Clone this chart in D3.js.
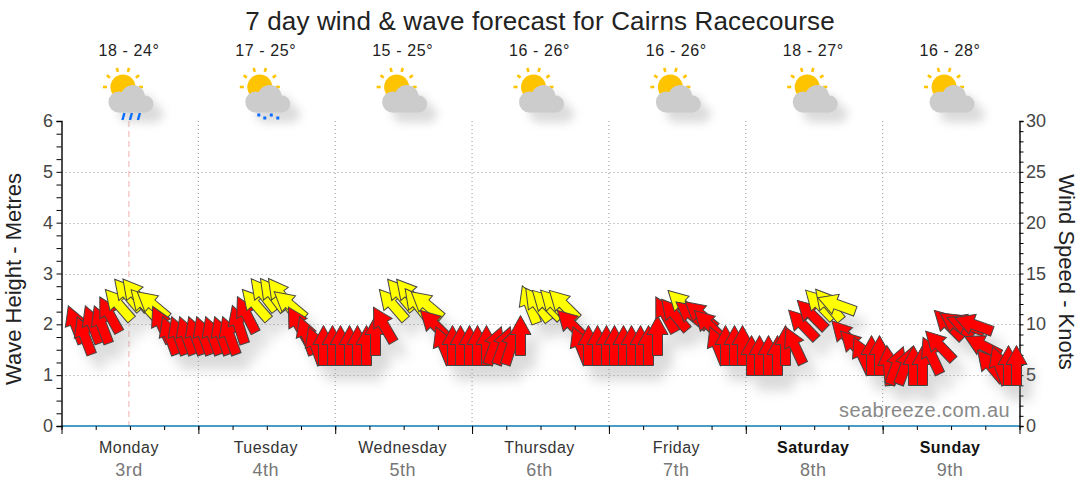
<!DOCTYPE html>
<html lang="en">
<head>
    <meta charset="UTF-8">
    <title>7 day wind & wave forecast</title>
    <script src="https://d3js.org/d3.v7.min.js"></script>
    <style>
        html, body { margin: 0; padding: 0; background: #fff; }
        svg { display: block; }
        text { font-family: "Liberation Sans", Arial, sans-serif; }
        .tick-label { font-size: 18px; fill: #444; }
        .day-label { font-size: 16px; fill: #333; text-anchor: middle; letter-spacing: 0.5px; }
        .date-label { font-size: 18px; fill: #777; text-anchor: middle; letter-spacing: 0.5px; }
        .temp-label { font-size: 16px; fill: #222; text-anchor: middle; letter-spacing: 0.6px; }
        .axis-title { font-size: 22px; fill: #222; text-anchor: middle; }
    </style>
</head>
<body>
<svg id="chart" width="1080" height="490"></svg>
<script>
    const dayLabels = ["Monday", "Tuesday", "Wednesday", "Thursday", "Friday", "Saturday", "Sunday"];
    const dateLabels = ["3rd", "4th", "5th", "6th", "7th", "8th", "9th"];
    const tempLabels = ["18 - 24°", "17 - 25°", "15 - 25°", "16 - 26°", "16 - 26°", "18 - 27°", "16 - 28°"];
    const iconRain = ["rain", "drizzle", "", "", "", "", ""];

    // wind speed in knots, one value every 1.5 hours
    const windKnots = [
        10, 9, 10, 10, 11, 12, 13, 13, 12, 12, 10, 9, 9, 9, 9, 9,
        9, 9, 9, 10, 11, 12, 13, 13, 13, 12, 10, 9, 8, 8, 8, 8,
        8, 8, 8, 9, 10, 12, 13, 13, 12, 12, 10, 8, 8, 8, 8, 8,
        8, 8, 8, 8, 9, 12, 12, 12, 12, 12, 10, 8, 8, 8, 8, 8,
        8, 8, 8, 8, 9, 11, 11, 12, 11, 11, 10, 8, 8, 8, 8, 7,
        7, 7, 7, 8, 8, 10, 11, 12, 12, 12, 9, 8, 7, 7, 7, 6,
        6, 6, 6, 6, 7, 8, 10, 10, 10, 10, 8, 6, 6, 6, 6
    ];
    // arrow rotation in degrees, 0 is straight up
    const windAngle = [
        -21, -21, -21, -21, -29, -41, -40, -39, -42, -50, -26, -20, -20, -20, -20, -20,
        -20, -20, -20, -18, -27, -41, -38, -37, -37, -50, -30, -20, -20, 0, 0, 0,
        0, 0, 0, 0, -30, -41, -40, -40, -38, -50, -45, -22, 0, 0, 0, 0,
        0, 20, 20, 18, 0, -21, -36, -45, -44, -45, -45, -22, 0, 0, 0, 0,
        0, 0, 0, 0, 0, -29, -40, -46, -51, -50, -45, -22, 0, 0, 0, 0,
        0, 0, 0, 0, -25, -44, -45, -44, -40, -70, -43, -44, -25, 0, 0, -5,
        20, 20, 0, 0, -25, -44, -45, -55, -70, -70, -63, -40, -20, 0, 0
    ];
    // wave height stays at zero for the whole week
    const waveHeights = [0, 0, 0, 0, 0, 0, 0, 0];

    const plotLeft = 61.5, plotRight = 1019.5, plotTop = 121, plotBottom = 426;

    const x = d3.scaleLinear().domain([0, 168]).range([plotLeft, plotRight]);
    const yWave = d3.scaleLinear().domain([0, 6]).range([plotBottom, plotTop]);
    const yWind = d3.scaleLinear().domain([0, 30]).range([plotBottom, plotTop]);

    const svg = d3.select("#chart");

    const defs = svg.append("defs");
    defs.append("filter").attr("id", "windShadow")
        .attr("x", "-10%").attr("y", "-20%").attr("width", "120%").attr("height", "170%")
        .append("feGaussianBlur").attr("stdDeviation", 6);
    defs.append("filter").attr("id", "iconShadow")
        .attr("x", "-40%").attr("y", "-40%").attr("width", "190%").attr("height", "190%")
        .append("feGaussianBlur").attr("stdDeviation", 5);

    svg.append("text")
        .attr("x", 540).attr("y", 30)
        .attr("text-anchor", "middle")
        .attr("font-size", 26)
        .attr("fill", "#222")
        .attr("letter-spacing", 0.15)
        .text("7 day wind & wave forecast for Cairns Racecourse");

    // grid
    const grid = svg.append("g").attr("stroke", "#999").attr("stroke-dasharray", "1,3");
    grid.selectAll("line.h").data(d3.range(1, 6)).enter().append("line")
        .attr("class", "h")
        .attr("x1", plotLeft).attr("x2", plotRight)
        .attr("y1", d => Math.round(yWave(d)) + 0.5).attr("y2", d => Math.round(yWave(d)) + 0.5);
    grid.selectAll("line.v").data(d3.range(1, 7)).enter().append("line")
        .attr("class", "v")
        .attr("x1", d => x(d * 24)).attr("x2", d => x(d * 24))
        .attr("y1", plotTop).attr("y2", plotBottom);

    // current time marker
    svg.append("line")
        .attr("x1", x(12) - 1).attr("x2", x(12) - 1)
        .attr("y1", plotTop).attr("y2", plotBottom)
        .attr("stroke", "#f0b0b0")
        .attr("stroke-dasharray", "6,4");

    // wave series
    const waveLine = d3.line()
        .x((d, i) => x(i * 24))
        .y(d => yWave(d));
    svg.append("path")
        .attr("d", waveLine(waveHeights))
        .attr("fill", "none")
        .attr("stroke", "#0a7cb0")
        .attr("stroke-width", 1.6);

    // axes
    const leftAxis = d3.axisLeft(yWave).tickValues(d3.range(0, 6.01, 0.25)).tickSize(5).tickFormat("");
    const gLeft = svg.append("g").attr("transform", `translate(${plotLeft},0)`).call(leftAxis);
    const rightAxis = d3.axisRight(yWind).tickValues(d3.range(0, 31)).tickSize(4).tickFormat("");
    const gRight = svg.append("g").attr("transform", `translate(${plotRight},0)`).call(rightAxis);
    const minorX = d3.axisBottom(x).tickValues(d3.range(0, 169, 6)).tickSize(4).tickFormat("");
    const gX = svg.append("g").attr("transform", `translate(0,${plotBottom})`).call(minorX);
    gX.select(".domain").remove();
    const majorX = d3.axisBottom(x).tickValues(d3.range(0, 169, 24)).tickSize(8).tickFormat("");
    const gX2 = svg.append("g").attr("transform", `translate(0,${plotBottom})`).call(majorX);
    gX2.select(".domain").remove();
    [gLeft, gRight].forEach(g => g.select(".domain").attr("stroke-width", 1.4));

    d3.range(0, 7).forEach(v => {
        svg.append("text").attr("class", "tick-label")
            .attr("x", 53).attr("y", yWave(v) + 6).attr("text-anchor", "end").text(v);
    });
    d3.range(0, 31, 5).forEach(v => {
        svg.append("text").attr("class", "tick-label")
            .attr("x", 1026).attr("y", yWind(v) + 6).attr("text-anchor", "start").text(v);
    });

    svg.append("text").attr("class", "axis-title")
        .attr("transform", `translate(21,279) rotate(-90)`)
        .text("Wave Height - Metres");
    svg.append("text").attr("class", "axis-title")
        .attr("transform", `translate(1059,272) rotate(90)`)
        .text("Wind Speed - Knots");

    // day labels
    dayLabels.forEach((d, i) => {
        const cx = x(i * 24 + 12) - 1;
        const weekend = i >= 5;
        svg.append("text").attr("class", "day-label")
            .attr("x", cx).attr("y", 453)
            .attr("font-weight", weekend ? "bold" : null)
            .style("fill", weekend ? "#111" : null)
            .text(d);
        svg.append("text").attr("class", "date-label")
            .attr("x", cx).attr("y", 476)
            .text(dateLabels[i]);
        svg.append("text").attr("class", "temp-label")
            .attr("x", cx).attr("y", 56)
            .text(tempLabels[i]);
    });

    // weather icons, drawn around the day centre
    const cloudShape = g => {
        g.append("circle").attr("cx", 3).attr("cy", 97).attr("r", 12);
        g.append("circle").attr("cx", -11).attr("cy", 102).attr("r", 10.5);
        g.append("circle").attr("cx", 15).attr("cy", 104).attr("r", 8.5);
        g.append("rect").attr("x", -11).attr("y", 100).attr("width", 26).attr("height", 12.5);
    };
    tempLabels.forEach((d, i) => {
        const g = svg.append("g").attr("transform", `translate(${x(i * 24 + 12)},0)`);
        const shadow = g.append("g").attr("fill", "#999").attr("opacity", 0.35)
            .attr("filter", "url(#iconShadow)")
            .attr("transform", "translate(10,10)");
        cloudShape(shadow);
        const sun = g.append("g").attr("fill", "#ffc400");
        sun.append("circle").attr("cx", -7).attr("cy", 87).attr("r", 12.5);
        d3.range(-180, 90, 36).forEach(a => {
            sun.append("rect")
                .attr("x", -2).attr("y", -1.3).attr("width", 4).attr("height", 2.6)
                .attr("transform", `translate(-7,87) rotate(${a}) translate(18,0)`);
        });
        cloudShape(g.append("g").attr("fill", "#ccc"));
        if (iconRain[i] === "rain") {
            [-6.5, 1, 9].forEach(rx => {
                g.append("line")
                    .attr("x1", rx + 1).attr("x2", rx - 1)
                    .attr("y1", 113).attr("y2", 120)
                    .attr("stroke", "#0a6cff").attr("stroke-width", 2.4);
            });
        } else if (iconRain[i] === "drizzle") {
            [[-8, 115], [-2, 118], [4.5, 115], [11, 118]].forEach(p => {
                g.append("rect")
                    .attr("x", p[0] - 1.5).attr("y", p[1] - 1.5)
                    .attr("width", 3).attr("height", 3)
                    .attr("fill", "#0a6cff");
            });
        }
    });

    // wind arrows, snapped to the pixel grid so the shaft lines stay sharp
    const arrowShape = "M0,-20L10.5,-1L5,-1L5,20L-5,20L-5,-1L-10.5,-1Z";
    const arrowData = windKnots.map((k, i) => ({ hour: 2.4 + i * 1.5, knots: k, angle: windAngle[i] }));
    const arrowTransform = d =>
        `translate(${Math.round(x(d.hour)) + 0.5},${Math.round(yWind(d.knots)) + 0.5}) rotate(${d.angle})`;

    svg.append("g")
        .attr("filter", "url(#windShadow)")
        .attr("opacity", 0.3)
        .attr("transform", "translate(10,15)")
        .selectAll("path").data(arrowData).enter().append("path")
        .attr("d", arrowShape)
        .attr("fill", "#888")
        .attr("transform", arrowTransform);

    svg.append("g")
        .selectAll("path").data(arrowData).enter().append("path")
        .attr("d", arrowShape)
        .attr("fill", d => d.knots >= 12 ? "#ffff00" : "#ff0000")
        .attr("stroke", "#444")
        .attr("stroke-width", 1)
        .attr("transform", arrowTransform);

    svg.append("text")
        .attr("x", 1010).attr("y", 417)
        .attr("text-anchor", "end")
        .attr("font-size", 20)
        .attr("fill", "#888")
        .attr("letter-spacing", 0.4)
        .text("seabreeze.com.au");
</script>
</body>
</html>
